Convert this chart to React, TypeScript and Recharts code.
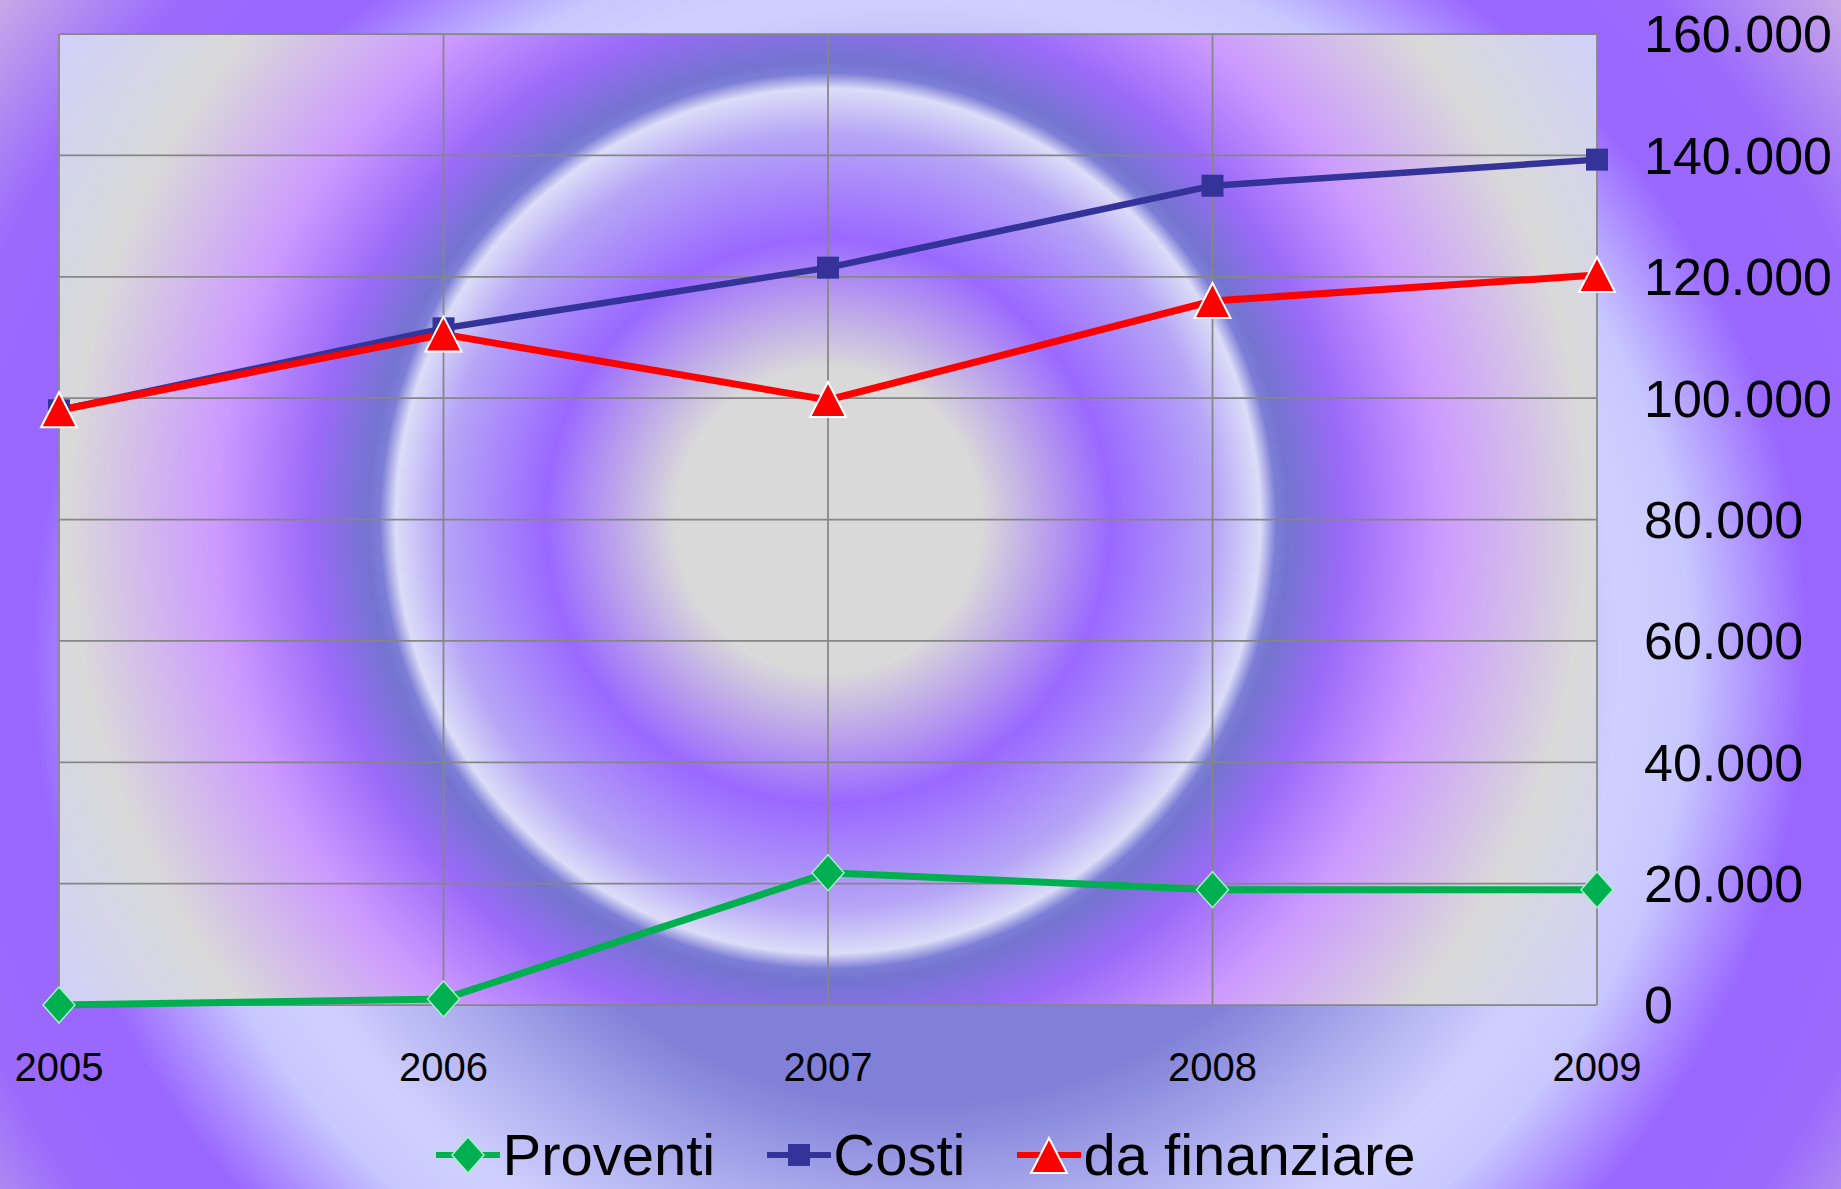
import { LineChart, Line, XAxis, YAxis, CartesianGrid, Legend } from 'recharts';

const years = ['2005', '2006', '2007', '2008', '2009'];
const proventi = [0, 1000, 21800, 19000, 19000];
const costi = [98000, 111500, 121500, 135000, 139300];
const daFinanziare = [98000, 110500, 99700, 116000, 120300];
const yTicks = [0, 20000, 40000, 60000, 80000, 100000, 120000, 140000, 160000];

const seriesNames = ['Proventi', 'Costi', 'da finanziare'];

const GREEN = '#00b050';
const BLUE = '#333399';
const RED = '#ff0000';
const FONT = '"Liberation Sans", Arial, sans-serif';

const data = years.map((year, i) => ({
  year,
  proventi: proventi[i],
  costi: costi[i],
  daFinanziare: daFinanziare[i],
}));

const fmt = (v: number) => String(v).replace(/\B(?=(\d{3})+(?!\d))/g, '.');

function diamondPath(cx: number, cy: number) {
  return `M${cx},${cy - 18}L${cx + 16},${cy}L${cx},${cy + 18}L${cx - 16},${cy}Z`;
}
function trianglePath(cx: number, cy: number) {
  return `M${cx},${cy - 18}L${cx + 18},${cy + 17}L${cx - 18},${cy + 17}Z`;
}

const DiamondDot = (props: any) => {
  const { cx, cy, index } = props;
  if (cx == null || cy == null) return null;
  return <path key={`dia-${index}`} d={diamondPath(cx, cy)} fill={GREEN} stroke="#a6f0c8" strokeWidth={1.5} />;
};

const SquareDot = (props: any) => {
  const { cx, cy, index } = props;
  if (cx == null || cy == null) return null;
  return <rect key={`sq-${index}`} x={cx - 11} y={cy - 11} width={22} height={22} fill={BLUE} />;
};

const TriangleDot = (props: any) => {
  const { cx, cy, index } = props;
  if (cx == null || cy == null) return null;
  return <path key={`tri-${index}`} d={trianglePath(cx, cy)} fill={RED} stroke="#ffffff" strokeWidth={2} />;
};

function LegendIcon({ kind }: { kind: number }) {
  const color = [GREEN, BLUE, RED][kind];
  return (
    <svg width={64} height={44} style={{ display: 'block' }}>
      <line x1={0} y1={22} x2={64} y2={22} stroke={color} strokeWidth={6} />
      {kind === 0 && <path d={diamondPath(32, 22)} fill={GREEN} stroke="#a6f0c8" strokeWidth={1.5} />}
      {kind === 1 && <rect x={21} y={11} width={22} height={22} fill={BLUE} />}
      {kind === 2 && <path d={trianglePath(32, 23)} fill={RED} stroke="#ffffff" strokeWidth={2} />}
    </svg>
  );
}

const renderLegend = () => (
  <div
    style={{
      display: 'flex',
      justifyContent: 'center',
      alignItems: 'center',
      height: 56,
      paddingLeft: 11,
      fontFamily: FONT,
      fontSize: 58,
      lineHeight: '56px',
      color: '#000',
    }}
  >
    {seriesNames.map((name, i) => (
      <div key={name} style={{ display: 'flex', alignItems: 'center', marginLeft: i === 0 ? 0 : 52 }}>
        <LegendIcon kind={i} />
        <span style={{ marginLeft: 2 }}>{name}</span>
      </div>
    ))}
  </div>
);

export default function App() {
  return (
    <div
      style={{
        position: 'absolute',
        left: 0,
        top: 0,
        width: 1841,
        height: 1189,
        background:
          'radial-gradient(ellipse 700px 657px at 920px 657px, #8080d8 0%, #8080d8 68%, #b0b0f0 86%, #d0d0ff 100%, #c8c8ff 110%, #9966ff 127%, #9b6afc 145%, #c8a8e8 165%, #c8a8e8 200%)',
      }}
    >
      <LineChart width={1841} height={1189} data={data} margin={{ top: 34, right: 0, left: 59, bottom: 0 }}>
        <defs>
          <radialGradient id="plotBg" gradientUnits="userSpaceOnUse" cx={828} cy={521} r={920}>
            <stop offset="0" stopColor="#d9d9d9" />
            <stop offset="0.166" stopColor="#d9d9d9" />
            <stop offset="0.307" stopColor="#9a68ff" />
            <stop offset="0.421" stopColor="#b6a6f6" />
            <stop offset="0.470" stopColor="#dcdcf8" />
            <stop offset="0.487" stopColor="#7c7ed6" />
            <stop offset="0.500" stopColor="#7474d0" />
            <stop offset="0.562" stopColor="#9a6af8" />
            <stop offset="0.663" stopColor="#cc99ff" />
            <stop offset="0.826" stopColor="#d9d9d9" />
            <stop offset="0.986" stopColor="#d0d0fa" />
          </radialGradient>
        </defs>
        <CartesianGrid stroke="#868686" strokeWidth={1.75} fill="url(#plotBg)" />
        <XAxis
          dataKey="year"
          interval={0}
          height={128}
          tickSize={0}
          tickMargin={48}
          axisLine={false}
          tickLine={false}
          tick={{ fontSize: 40, fontFamily: FONT, fill: '#000' }}
        />
        <YAxis
          orientation="right"
          domain={[0, 160000]}
          ticks={yTicks}
          interval={0}
          width={244}
          tickSize={0}
          tickMargin={47}
          axisLine={false}
          tickLine={false}
          tickFormatter={fmt}
          tick={{ fontSize: 52, fontFamily: FONT, fill: '#000' }}
        />
        <Legend
          verticalAlign="bottom"
          content={renderLegend}
          wrapperStyle={{ left: 0, width: 1841, bottom: 6, height: 56 }}
        />
        <Line
          dataKey="proventi"
          name="Proventi"
          stroke={GREEN}
          strokeWidth={7}
          dot={DiamondDot}
          activeDot={false}
          isAnimationActive={false}
        />
        <Line
          dataKey="costi"
          name="Costi"
          stroke={BLUE}
          strokeWidth={6.5}
          dot={SquareDot}
          activeDot={false}
          isAnimationActive={false}
        />
        <Line
          dataKey="daFinanziare"
          name="da finanziare"
          stroke={RED}
          strokeWidth={7}
          dot={TriangleDot}
          activeDot={false}
          isAnimationActive={false}
        />
      </LineChart>
    </div>
  );
}
